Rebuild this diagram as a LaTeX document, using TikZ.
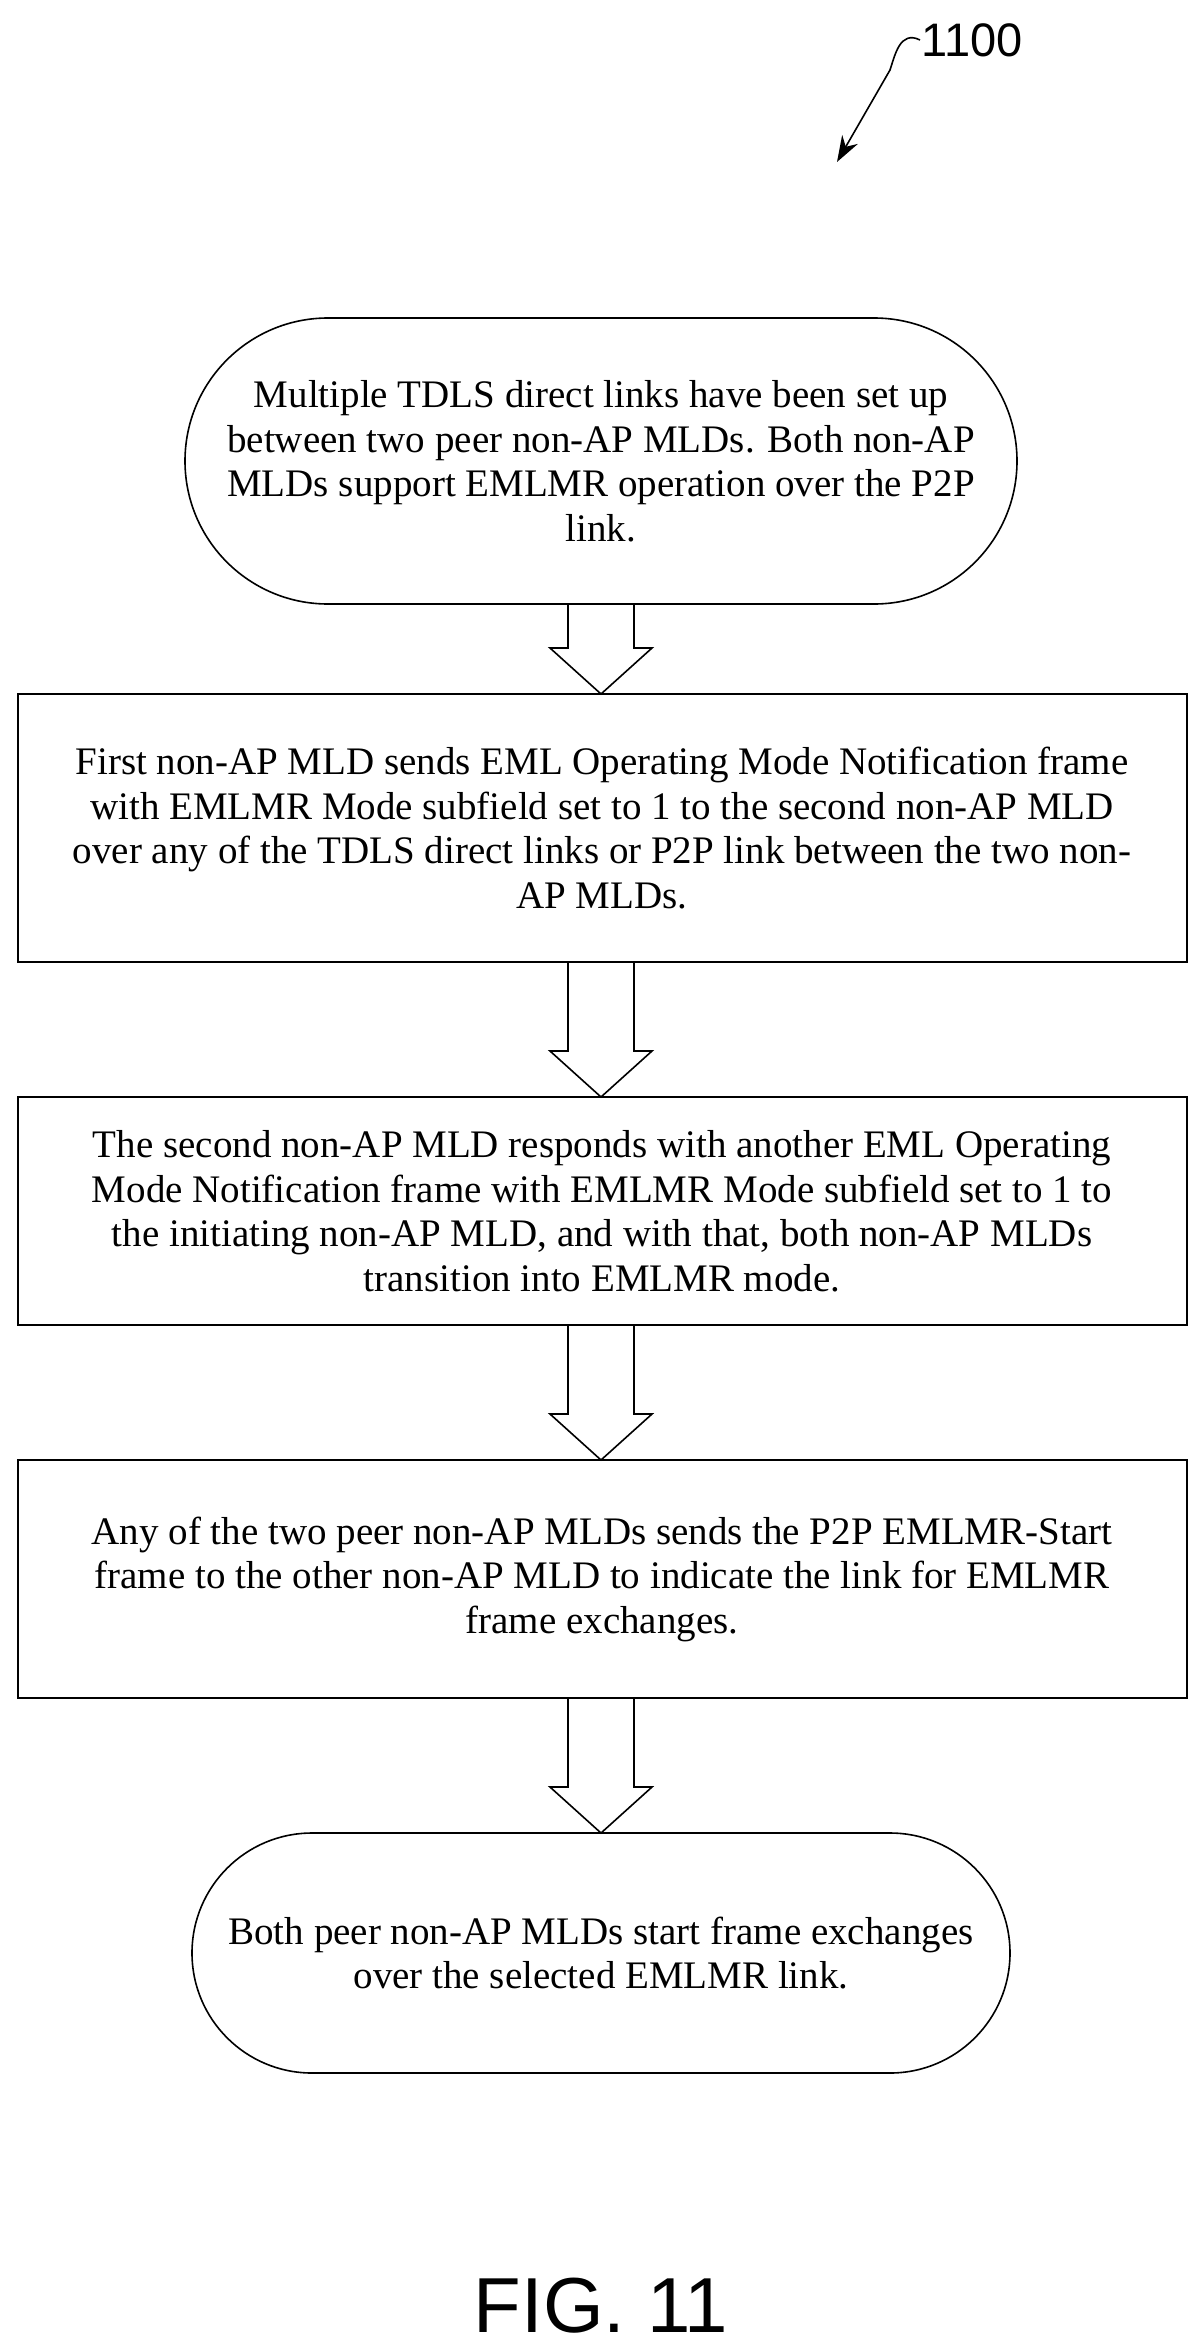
\documentclass[tikz,border=0pt]{standalone}
\usepackage{fontspec}
\setmainfont{Liberation Serif}
\setsansfont{Liberation Sans}
\usetikzlibrary{arrows.meta}
\begin{document}
\begin{tikzpicture}[x=1pt,y=-1pt,
  txt/.style={font=\fontsize{39}{44.5}\selectfont, align=center},
  box/.style={draw, line width=1.6pt},
  harrow/.style={draw, line width=1.6pt, fill=white}]
\useasboundingbox (0,0) rectangle (1202,2350);
% 1100 label
\node[font=\sffamily\fontsize{47}{52}\selectfont, anchor=west] (lbl) at (918,40) {1100};
\coordinate (sq) at (920,40);
\coordinate (tip) at (837,162);
\draw[line width=1.6pt, -{Stealth[length=26pt,width=18pt]}] (sq) .. controls (900,30) and (895,55) .. (890,70) -- (tip);
% shapes
\draw[box, rounded corners=143pt] (185,318) rectangle (1017,604);
\node[txt] (t1) at (601,461) {Multiple TDLS direct links have been set up\\between two peer non-AP MLDs. Both non-AP\\MLDs support EMLMR operation over the P2P\\link.};
\draw[box] (18,694) rectangle (1187,962);
\node[txt] (t2) at (602,828) {First non-AP MLD sends EML Operating Mode Notification frame\\with EMLMR Mode subfield set to 1 to the second non-AP MLD\\over any of the TDLS direct links or P2P link between the two non-\\AP MLDs.};
\draw[box] (18,1097) rectangle (1187,1325);
\node[txt] (t3) at (602,1211) {The second non-AP MLD responds with another EML Operating\\Mode Notification frame with EMLMR Mode subfield set to 1 to\\the initiating non-AP MLD, and with that, both non-AP MLDs\\transition into EMLMR mode.};
\draw[box] (18,1460) rectangle (1187,1698);
\node[txt] (t4) at (602,1579) {Any of the two peer non-AP MLDs sends the P2P EMLMR-Start\\frame to the other non-AP MLD to indicate the link for EMLMR\\frame exchanges.};
\draw[box, rounded corners=120pt] (192,1833) rectangle (1010,2073);
\node[txt] (t5) at (601,1953) {Both peer non-AP MLDs start frame exchanges\\over the selected EMLMR link.};
% hollow arrows
\foreach \a/\b in {604/694, 962/1097, 1325/1460, 1698/1833}{
  \pgfmathsetmacro{\m}{\b-46}
  \draw[harrow] (568,\a) -- (634,\a) -- (634,\m) -- (652,\m) -- (601,\b) -- (550,\m) -- (568,\m) -- cycle;
}
\node[font=\sffamily\fontsize{78}{90}\selectfont] (fig) at (601,2306) {FIG. 11};
\end{tikzpicture}
\end{document}
